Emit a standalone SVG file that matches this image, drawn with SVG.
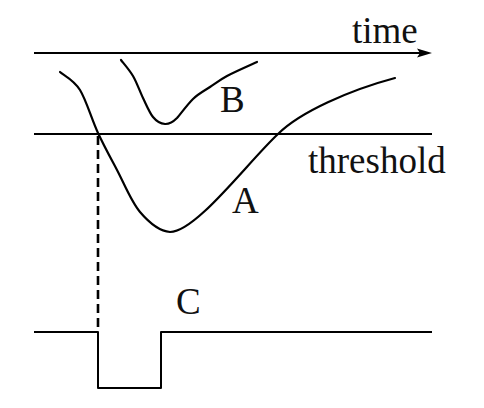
<svg xmlns="http://www.w3.org/2000/svg" width="484" height="408" viewBox="0 0 484 408">
<style>
.ln{fill:none;stroke:#000;stroke-width:2;stroke-linejoin:round;stroke-linecap:butt}
.cv{fill:none;stroke:#000;stroke-width:2.2;stroke-linejoin:round;stroke-linecap:round}
.lbl{font-family:"Liberation Serif","Times New Roman",serif;font-size:37px;fill:#111}
</style>
<rect width="484" height="408" fill="#fff"/>
<g id="time-axis">
<line class="ln" x1="34" y1="53" x2="420" y2="53"/>
<polygon points="432,53 417,48.5 420,53 417,57.5" fill="#000"/>
<text class="lbl" x="352" y="43">time</text>
</g>
<g id="threshold">
<line class="ln" x1="34" y1="134" x2="432" y2="134" stroke-width="2.4"/>
<text class="lbl" x="308" y="173">threshold</text>
</g>
<g id="curve-A">
<path class="cv" d="M60,72 C63.3,75 73.7,79.8 80,90 C86.3,100.2 91.8,119.7 98,133 C104.2,146.3 110,156.8 117,170 C124,183.2 131.2,201.7 140,212 C148.8,222.3 160,231.3 170,232 C196,232 248,162 278,134 C300,112 350,90 395,78"/>
<text class="lbl" x="232" y="213">A</text>
</g>
<g id="curve-B">
<path class="cv" d="M121,60 C123,62.7 129.3,69.7 133,76 C136.7,82.3 139.7,91.2 143,98 C146.3,104.8 149.5,112.7 153,117 C156.5,121.3 160.3,123.6 165,124 C170,124.3 173,122 177,118 C181,113.5 187.2,104.7 193,99 C198.8,93.3 204.3,90.8 210,87 C215.7,83.2 219.2,80.2 227,76 C234.8,71.8 252,64.3 257,62"/>
<text class="lbl" x="220" y="112">B</text>
</g>
<g id="connectors">
<line x1="98" y1="136" x2="98" y2="331" stroke="#000" stroke-width="2.6" stroke-dasharray="9 5"/>
</g>
<g id="signal-C">
<polyline class="ln" points="34,332 98,332 98,388 161,388 161,332 432,332"/>
<text class="lbl" x="176" y="314">C</text>
</g>
</svg>
